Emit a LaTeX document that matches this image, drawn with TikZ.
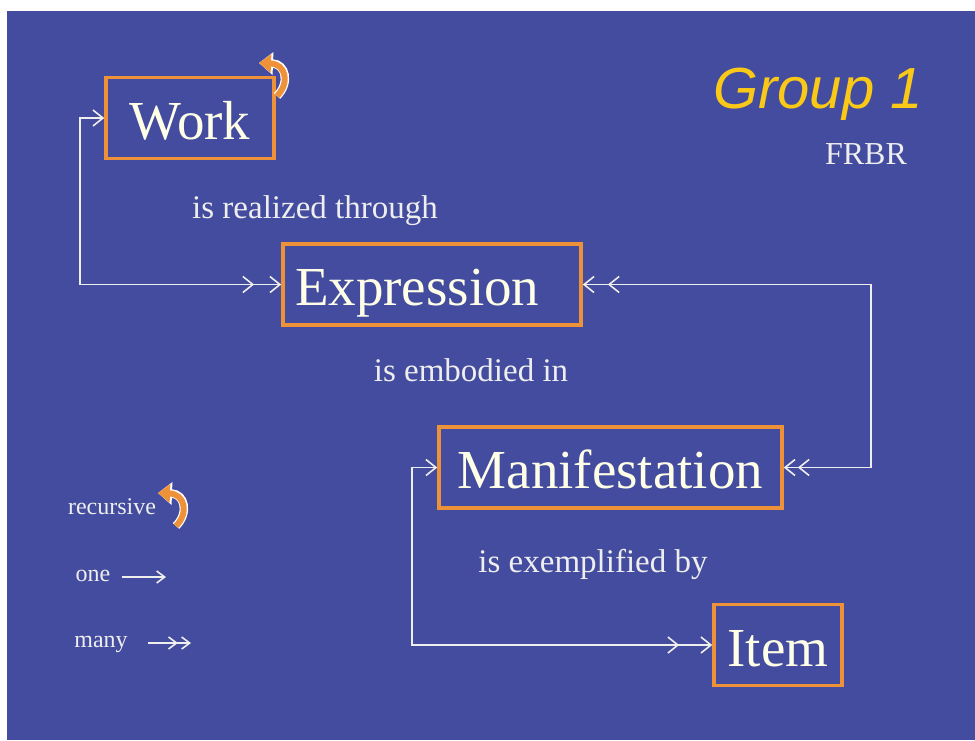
\documentclass[tikz,border=0pt]{standalone}
\usepackage{fontspec}
\setmainfont{Liberation Serif}
\newfontfamily\titlefont{Liberation Sans}
\usetikzlibrary{arrows.meta}

\definecolor{slideblue}{RGB}{67,76,158}
\definecolor{boxorange}{RGB}{238,146,58}
\definecolor{labelcream}{RGB}{255,255,232}
\definecolor{linewhite}{RGB}{238,238,238}
\definecolor{titleyellow}{RGB}{250,200,22}

\tikzset{
  entity/.style={draw=boxorange, line width=3.5pt, text=labelcream, minimum height=81pt,
    inner sep=0pt, text height=42pt, text depth=0pt, font=\fontsize{55}{60}\selectfont},
  relation/.style={text=linewhite, anchor=base, font=\fontsize{33}{36}\selectfont},
  legend/.style={text=linewhite, anchor=base, font=\fontsize{24}{26}\selectfont},
  link/.style={draw=linewhite, line width=1.6pt},
  recursive/.pic={
    \draw[white, line width=8.5pt, -{Triangle[length=14pt,width=22pt]}] (18,-33) .. controls (31,-20) and (27,-1) .. (0,0);
    \draw[boxorange, line width=6pt, -{Triangle[length=12pt,width=18pt]}] (18,-33) .. controls (31,-20) and (27,-1) .. (0,0);
  }
}

\begin{document}
\begin{tikzpicture}[x=1pt,y=1pt,yscale=-1]
\useasboundingbox (0,0) rectangle (975,740);
\fill[white] (0,0) rectangle (975,740);
\fill[slideblue] (7,11) rectangle (975,740);

% Entities
\node[entity, minimum width=168pt] (work) at (190,118) {Work};
\node[entity, minimum width=298pt, text width=274pt, align=left] (expression) at (432,284.5) {Expression};
\node[entity, minimum width=343pt] (manifestation) at (610.5,467.5) {Manifestation};
\node[entity, minimum width=128pt] (item) at (778,645) {Item};

% Recursive marks
\pic at (259,63) {recursive};

% Relationships
\draw[link, {Straight Barb[length=10pt,width=16pt]}-{Straight Barb[length=10pt,width=16pt,sep=15pt]Straight Barb[length=10pt,width=16pt]}]
  (work.west) -- ++(-24,0) |- (expression.west);
\draw[link, {Straight Barb[length=10pt,width=16pt]Straight Barb[length=10pt,width=16pt,sep=13pt]}-{Straight Barb[length=10pt,width=16pt,sep=2pt]Straight Barb[length=10pt,width=16pt]}]
  (expression.east) -- ++(288,0) |- (manifestation.east);
\draw[link, {Straight Barb[length=10pt,width=16pt]}-{Straight Barb[length=10pt,width=16pt,sep=21pt]Straight Barb[length=10pt,width=16pt]}]
  (manifestation.west) -- ++(-25,0) |- (item.west);

% Relationship labels
\node[relation] (realized) at (315,218) {is realized through};
\node[relation] (embodied) at (471,381) {is embodied in};
\node[relation] (exemplified) at (593,572) {is exemplified by};

% Title
\node[text=titleyellow, anchor=base, font=\titlefont\itshape\fontsize{58}{62}\selectfont] (group) at (818,108) {Group 1};
\node[text=linewhite, anchor=base, font=\fontsize{32}{34}\selectfont] (frbr) at (866,164) {FRBR};

% Legend
\node[legend] (recursivetext) at (112,514) {recursive};
\pic at (158,493) {recursive};
\node[legend] (onetext) at (93,581) {one};
\coordinate (onefrom) at (122,577);
\coordinate (oneto) at (166,577);
\draw[link, -{Straight Barb[length=8pt,width=12pt]}] (onefrom) -- (oneto);
\node[legend] (manytext) at (101,647) {many};
\coordinate (manyfrom) at (148,643);
\coordinate (manyto) at (191,643);
\draw[link, -{Straight Barb[length=8pt,width=12pt,sep=3pt]Straight Barb[length=8pt,width=12pt]}] (manyfrom) -- (manyto);

\end{tikzpicture}
\end{document}
